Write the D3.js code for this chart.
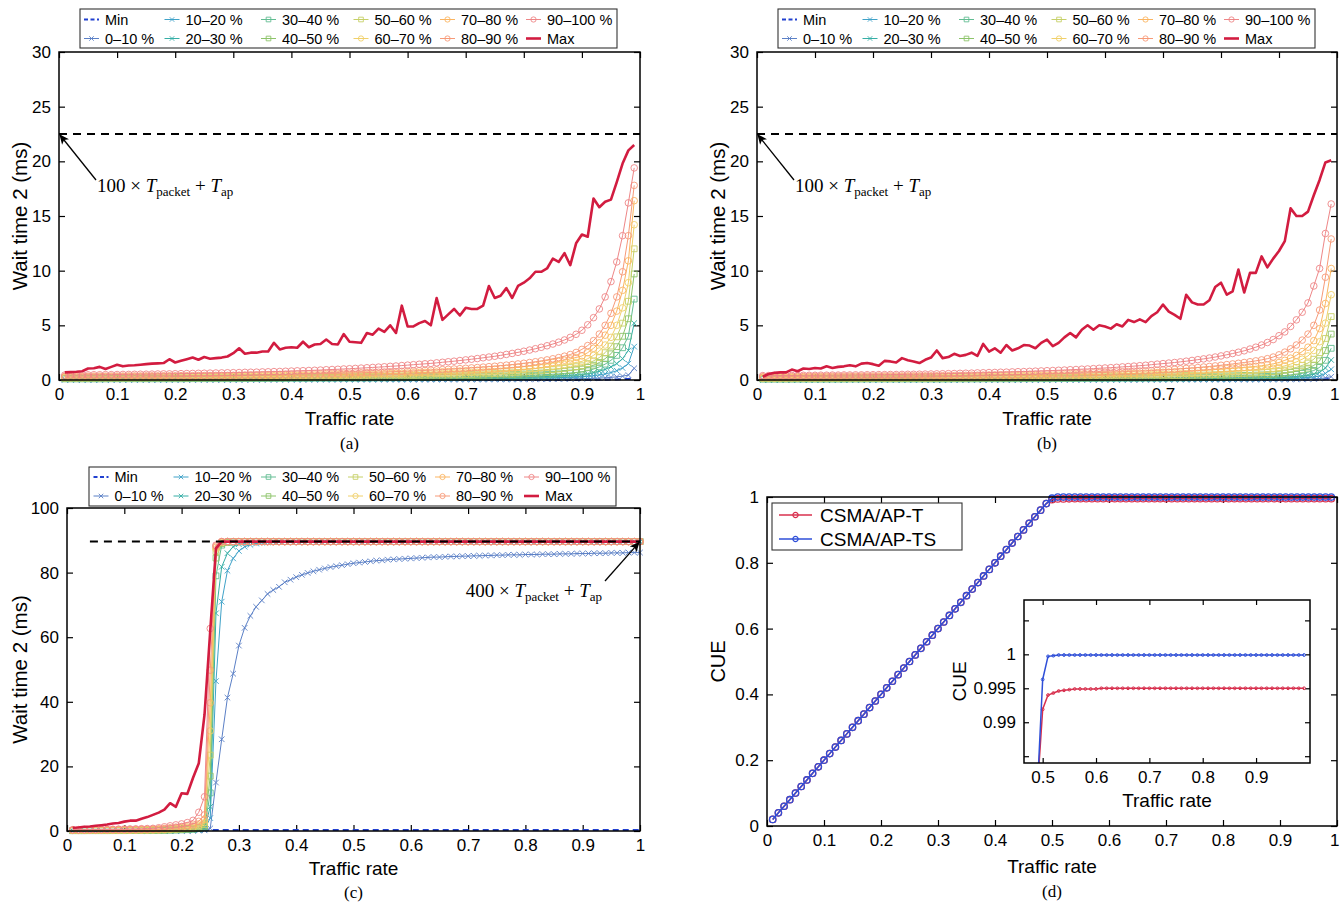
<!DOCTYPE html>
<html>
<head>
<meta charset="utf-8">
<script src="https://cdn.jsdelivr.net/npm/d3@7"></script>
<style>
  body { margin: 0; background: #fff; }
</style>
</head>
<body>
<svg id="fig" width="1340" height="902"></svg>
<script>
// ---------------- data ----------------
const rate100 = [
  0.01,0.02,0.03,0.04,0.05,0.06,0.07,0.08,0.09,0.10,
  0.11,0.12,0.13,0.14,0.15,0.16,0.17,0.18,0.19,0.20,
  0.21,0.22,0.23,0.24,0.25,0.26,0.27,0.28,0.29,0.30,
  0.31,0.32,0.33,0.34,0.35,0.36,0.37,0.38,0.39,0.40,
  0.41,0.42,0.43,0.44,0.45,0.46,0.47,0.48,0.49,0.50,
  0.51,0.52,0.53,0.54,0.55,0.56,0.57,0.58,0.59,0.60,
  0.61,0.62,0.63,0.64,0.65,0.66,0.67,0.68,0.69,0.70,
  0.71,0.72,0.73,0.74,0.75,0.76,0.77,0.78,0.79,0.80,
  0.81,0.82,0.83,0.84,0.85,0.86,0.87,0.88,0.89,0.90,
  0.91,0.92,0.93,0.94,0.95,0.96,0.97,0.98,0.99,1.00];
const rate99 = rate100.slice(0, 99);

const xTicks = [0,0.1,0.2,0.3,0.4,0.5,0.6,0.7,0.8,0.9,1];
const waitTicksAB = [0,5,10,15,20,25,30];
const waitTicksC = [0,20,40,60,80,100];
const cueTicks = [0,0.2,0.4,0.6,0.8,1];
const insetXTicks = [0.5,0.6,0.7,0.8,0.9];
const insetYTicks = [0.985,0.99,0.995,1,1.005];
const insetYLabelled = [0.99,0.995,1];

const bandNames = ["0–10 %","10–20 %","20–30 %","30–40 %","40–50 %","50–60 %","60–70 %","70–80 %","80–90 %","90–100 %"];

// panel (a): wait time 2 percentile bands
const aMin = [
  0.01,0.01,0.01,0.01,0.01,0.01,0.01,0.01,0.01,0.01,
  0.01,0.01,0.01,0.01,0.01,0.01,0.01,0.01,0.01,0.01,
  0.01,0.01,0.01,0.01,0.01,0.01,0.01,0.01,0.01,0.01,
  0.01,0.01,0.01,0.01,0.01,0.01,0.01,0.01,0.01,0.01,
  0.01,0.01,0.01,0.01,0.01,0.01,0.01,0.01,0.01,0.01,
  0.01,0.01,0.01,0.01,0.01,0.01,0.01,0.01,0.01,0.01,
  0.01,0.01,0.01,0.01,0.01,0.01,0.01,0.01,0.01,0.01,
  0.01,0.01,0.01,0.01,0.01,0.01,0.01,0.01,0.01,0.01,
  0.01,0.01,0.01,0.01,0.01,0.01,0.01,0.01,0.01,0.01,
  0.02,0.02,0.03,0.03,0.04,0.05,0.07,0.10,0.18];
const aP1 = [
  0.02,0.02,0.02,0.02,0.02,0.02,0.02,0.02,0.02,0.02,
  0.02,0.02,0.02,0.02,0.02,0.02,0.02,0.02,0.02,0.02,
  0.02,0.02,0.02,0.02,0.02,0.02,0.02,0.02,0.02,0.02,
  0.02,0.02,0.02,0.02,0.02,0.03,0.03,0.03,0.03,0.03,
  0.03,0.03,0.03,0.03,0.03,0.03,0.03,0.03,0.03,0.03,
  0.03,0.03,0.03,0.03,0.03,0.03,0.03,0.03,0.03,0.03,
  0.03,0.03,0.03,0.03,0.04,0.04,0.04,0.04,0.04,0.04,
  0.04,0.04,0.04,0.05,0.05,0.05,0.05,0.05,0.06,0.06,
  0.06,0.06,0.07,0.07,0.08,0.08,0.09,0.10,0.11,0.12,
  0.13,0.15,0.17,0.20,0.24,0.29,0.35,0.45,1.07];
const aP2 = [
  0.04,0.04,0.04,0.04,0.04,0.04,0.04,0.04,0.04,0.04,
  0.04,0.04,0.04,0.04,0.04,0.04,0.04,0.04,0.04,0.04,
  0.05,0.05,0.05,0.05,0.05,0.05,0.05,0.05,0.05,0.05,
  0.05,0.05,0.05,0.05,0.06,0.06,0.06,0.06,0.06,0.06,
  0.06,0.06,0.06,0.06,0.07,0.07,0.07,0.07,0.07,0.07,
  0.07,0.07,0.07,0.07,0.08,0.08,0.08,0.08,0.08,0.08,
  0.08,0.09,0.09,0.09,0.09,0.10,0.10,0.10,0.11,0.11,
  0.11,0.12,0.12,0.12,0.13,0.13,0.14,0.14,0.15,0.16,
  0.17,0.18,0.19,0.20,0.21,0.22,0.24,0.25,0.27,0.30,
  0.34,0.40,0.47,0.56,0.68,0.85,1.10,1.50,3.05];
const aP3 = [
  0.07,0.07,0.07,0.07,0.07,0.07,0.07,0.07,0.07,0.07,
  0.07,0.07,0.07,0.07,0.07,0.08,0.08,0.08,0.08,0.08,
  0.08,0.08,0.08,0.08,0.08,0.08,0.08,0.08,0.08,0.08,
  0.08,0.08,0.09,0.09,0.09,0.09,0.09,0.09,0.09,0.10,
  0.10,0.10,0.10,0.10,0.10,0.10,0.11,0.11,0.11,0.11,
  0.11,0.11,0.12,0.12,0.12,0.12,0.13,0.13,0.13,0.14,
  0.14,0.14,0.15,0.15,0.15,0.16,0.16,0.17,0.17,0.18,
  0.18,0.19,0.19,0.20,0.21,0.21,0.22,0.23,0.24,0.26,
  0.27,0.29,0.31,0.33,0.35,0.37,0.40,0.43,0.46,0.50,
  0.57,0.67,0.80,0.97,1.20,1.50,1.95,2.70,5.20];
const aP4 = [
  0.10,0.10,0.10,0.10,0.10,0.10,0.10,0.10,0.11,0.11,
  0.11,0.11,0.11,0.11,0.11,0.11,0.11,0.11,0.11,0.11,
  0.11,0.12,0.12,0.12,0.12,0.12,0.12,0.12,0.12,0.12,
  0.12,0.13,0.13,0.13,0.13,0.14,0.14,0.14,0.14,0.15,
  0.15,0.15,0.15,0.16,0.16,0.16,0.16,0.17,0.17,0.17,
  0.17,0.18,0.18,0.18,0.19,0.19,0.20,0.20,0.20,0.21,
  0.21,0.22,0.22,0.23,0.23,0.24,0.25,0.25,0.26,0.27,
  0.28,0.29,0.30,0.31,0.32,0.33,0.34,0.36,0.38,0.40,
  0.42,0.44,0.47,0.50,0.53,0.56,0.60,0.64,0.69,0.75,
  0.85,1.00,1.20,1.45,1.80,2.25,2.95,4.00,7.40];
const aP5 = [
  0.14,0.14,0.14,0.14,0.14,0.14,0.15,0.15,0.15,0.15,
  0.15,0.15,0.15,0.15,0.15,0.16,0.16,0.16,0.16,0.16,
  0.16,0.16,0.16,0.16,0.17,0.17,0.17,0.17,0.17,0.17,
  0.18,0.18,0.18,0.19,0.19,0.19,0.20,0.20,0.20,0.21,
  0.21,0.21,0.22,0.22,0.22,0.23,0.23,0.23,0.24,0.24,
  0.25,0.25,0.26,0.26,0.27,0.27,0.28,0.28,0.29,0.30,
  0.30,0.31,0.32,0.32,0.33,0.34,0.35,0.36,0.37,0.38,
  0.39,0.40,0.42,0.43,0.45,0.46,0.48,0.50,0.52,0.55,
  0.58,0.61,0.64,0.68,0.72,0.76,0.81,0.86,0.93,1.00,
  1.15,1.35,1.60,1.95,2.40,3.05,4.00,5.60,9.70];
const aP6 = [
  0.18,0.18,0.18,0.18,0.18,0.19,0.19,0.19,0.19,0.19,
  0.19,0.19,0.20,0.20,0.20,0.20,0.20,0.20,0.21,0.21,
  0.21,0.21,0.21,0.21,0.21,0.22,0.22,0.22,0.22,0.22,
  0.23,0.23,0.23,0.24,0.24,0.25,0.25,0.25,0.26,0.26,
  0.27,0.27,0.28,0.28,0.28,0.29,0.29,0.30,0.30,0.31,
  0.32,0.32,0.33,0.34,0.34,0.35,0.36,0.37,0.38,0.39,
  0.40,0.41,0.42,0.43,0.44,0.45,0.46,0.47,0.48,0.50,
  0.51,0.53,0.55,0.57,0.59,0.61,0.63,0.66,0.69,0.72,
  0.76,0.80,0.85,0.90,0.95,1.01,1.07,1.14,1.22,1.30,
  1.50,1.75,2.05,2.50,3.10,3.95,5.20,7.20,12.0];
const aP7 = [
  0.22,0.22,0.22,0.22,0.23,0.23,0.23,0.23,0.23,0.24,
  0.24,0.24,0.24,0.24,0.25,0.25,0.25,0.25,0.25,0.26,
  0.26,0.26,0.26,0.26,0.27,0.27,0.27,0.27,0.28,0.28,
  0.29,0.29,0.30,0.30,0.31,0.31,0.32,0.32,0.33,0.34,
  0.34,0.35,0.35,0.36,0.37,0.37,0.38,0.39,0.39,0.40,
  0.41,0.42,0.43,0.44,0.45,0.46,0.47,0.48,0.49,0.50,
  0.51,0.53,0.54,0.55,0.57,0.58,0.60,0.62,0.64,0.66,
  0.68,0.70,0.72,0.75,0.77,0.80,0.83,0.86,0.90,0.95,
  1.00,1.05,1.11,1.17,1.25,1.33,1.41,1.50,1.60,1.70,
  1.95,2.25,2.65,3.20,3.90,5.00,6.60,8.90,14.2];
const aP8 = [
  0.27,0.27,0.27,0.28,0.28,0.28,0.28,0.29,0.29,0.29,
  0.29,0.30,0.30,0.30,0.30,0.31,0.31,0.31,0.31,0.32,
  0.32,0.32,0.32,0.33,0.33,0.33,0.33,0.34,0.34,0.34,
  0.35,0.36,0.36,0.37,0.38,0.39,0.39,0.40,0.41,0.42,
  0.42,0.43,0.44,0.45,0.46,0.46,0.47,0.48,0.49,0.50,
  0.51,0.52,0.54,0.55,0.56,0.58,0.59,0.61,0.62,0.64,
  0.66,0.68,0.70,0.71,0.73,0.75,0.77,0.79,0.82,0.84,
  0.87,0.90,0.93,0.96,0.99,1.03,1.07,1.11,1.16,1.22,
  1.28,1.35,1.42,1.50,1.60,1.70,1.81,1.93,2.06,2.20,
  2.50,2.90,3.40,4.10,5.00,6.30,8.20,10.9,16.4];
const aP9 = [
  0.33,0.33,0.34,0.34,0.34,0.35,0.35,0.35,0.36,0.36,
  0.36,0.37,0.37,0.37,0.38,0.38,0.38,0.39,0.39,0.39,
  0.40,0.40,0.40,0.41,0.41,0.41,0.42,0.42,0.42,0.43,
  0.44,0.45,0.46,0.47,0.48,0.49,0.50,0.51,0.52,0.53,
  0.54,0.55,0.56,0.57,0.58,0.59,0.60,0.61,0.62,0.63,
  0.65,0.66,0.68,0.70,0.71,0.73,0.75,0.77,0.79,0.81,
  0.83,0.85,0.88,0.90,0.93,0.95,0.98,1.01,1.04,1.07,
  1.11,1.14,1.18,1.22,1.26,1.31,1.36,1.41,1.47,1.53,
  1.60,1.67,1.75,1.84,1.94,2.05,2.18,2.33,2.52,2.80,
  3.15,3.60,4.20,5.00,6.10,7.60,9.90,13.2,17.8];
const aP10 = [
  0.45,0.46,0.46,0.47,0.47,0.48,0.48,0.49,0.49,0.50,
  0.51,0.51,0.52,0.53,0.53,0.54,0.55,0.56,0.56,0.57,
  0.58,0.59,0.60,0.61,0.62,0.63,0.64,0.65,0.66,0.67,
  0.68,0.70,0.71,0.72,0.74,0.75,0.77,0.78,0.80,0.82,
  0.84,0.85,0.87,0.89,0.91,0.94,0.96,0.98,1.01,1.03,
  1.06,1.09,1.12,1.15,1.18,1.21,1.25,1.28,1.32,1.36,
  1.40,1.44,1.48,1.52,1.57,1.62,1.67,1.72,1.78,1.84,
  1.90,1.96,2.03,2.10,2.17,2.25,2.34,2.43,2.53,2.63,
  2.74,2.86,2.99,3.13,3.29,3.46,3.66,3.90,4.18,4.55,
  5.05,5.70,6.50,7.60,9.00,10.8,13.2,16.2,19.4];
const aMax = [
  0.70,0.72,0.75,0.80,1.05,1.08,1.20,1.00,1.20,1.40,
  1.25,1.32,1.35,1.40,1.45,1.50,1.52,1.55,1.90,1.60,
  1.75,1.90,2.05,1.85,2.10,1.95,2.00,2.05,2.15,2.45,
  2.90,2.40,2.50,2.50,2.60,2.60,3.40,2.80,2.95,3.00,
  2.95,3.50,3.00,3.25,3.30,3.70,3.30,3.25,4.20,3.50,
  3.45,3.40,4.30,4.15,4.70,4.40,5.00,4.30,6.80,4.90,
  4.90,5.20,5.40,5.00,7.50,5.50,6.00,6.50,5.90,6.60,
  6.50,6.50,6.80,8.60,7.50,7.70,8.40,7.50,8.60,8.90,
  9.30,9.90,9.90,10.2,11.1,10.8,11.6,10.5,12.5,13.3,
  13.1,16.6,15.8,16.3,16.5,18.1,19.8,21.0,21.5];

// panel (b)
const bMin = [
  0.01,0.01,0.01,0.01,0.01,0.01,0.01,0.01,0.01,0.01,
  0.01,0.01,0.01,0.01,0.01,0.01,0.01,0.01,0.01,0.01,
  0.01,0.01,0.01,0.01,0.01,0.01,0.01,0.01,0.01,0.01,
  0.01,0.01,0.01,0.01,0.01,0.01,0.01,0.01,0.01,0.01,
  0.01,0.01,0.01,0.01,0.01,0.01,0.01,0.01,0.01,0.01,
  0.01,0.01,0.01,0.01,0.01,0.01,0.01,0.01,0.01,0.01,
  0.01,0.01,0.01,0.01,0.01,0.01,0.01,0.01,0.01,0.01,
  0.01,0.01,0.01,0.01,0.01,0.01,0.01,0.01,0.01,0.01,
  0.01,0.01,0.01,0.01,0.01,0.01,0.01,0.01,0.01,0.01,
  0.01,0.01,0.02,0.02,0.02,0.03,0.04,0.06,0.10];
const bP1 = [
  0.01,0.01,0.01,0.01,0.01,0.01,0.01,0.01,0.01,0.01,
  0.01,0.01,0.01,0.01,0.01,0.01,0.01,0.01,0.01,0.01,
  0.01,0.01,0.01,0.01,0.01,0.01,0.01,0.01,0.01,0.01,
  0.01,0.01,0.01,0.01,0.01,0.01,0.01,0.01,0.01,0.01,
  0.01,0.01,0.01,0.01,0.01,0.01,0.01,0.01,0.01,0.01,
  0.02,0.02,0.02,0.02,0.02,0.02,0.02,0.02,0.02,0.02,
  0.02,0.02,0.02,0.02,0.02,0.02,0.02,0.02,0.02,0.02,
  0.03,0.03,0.03,0.03,0.03,0.03,0.03,0.03,0.03,0.03,
  0.03,0.03,0.03,0.03,0.035,0.035,0.035,0.04,0.04,0.04,
  0.045,0.05,0.055,0.065,0.075,0.09,0.12,0.20,0.30];
const bP2 = [
  0.03,0.03,0.03,0.03,0.03,0.03,0.03,0.03,0.03,0.03,
  0.03,0.03,0.03,0.03,0.03,0.03,0.03,0.03,0.03,0.03,
  0.03,0.03,0.03,0.03,0.03,0.03,0.03,0.03,0.03,0.03,
  0.03,0.03,0.03,0.03,0.03,0.04,0.04,0.04,0.04,0.04,
  0.04,0.04,0.04,0.04,0.04,0.04,0.04,0.04,0.04,0.04,
  0.04,0.04,0.04,0.04,0.04,0.05,0.05,0.05,0.05,0.05,
  0.05,0.05,0.05,0.05,0.05,0.06,0.06,0.06,0.06,0.06,
  0.06,0.06,0.06,0.07,0.07,0.07,0.07,0.07,0.08,0.08,
  0.08,0.08,0.09,0.09,0.09,0.10,0.10,0.11,0.11,0.12,
  0.13,0.15,0.17,0.20,0.23,0.28,0.37,0.60,0.98];
const bP3 = [
  0.05,0.05,0.05,0.05,0.05,0.05,0.05,0.05,0.05,0.05,
  0.05,0.05,0.05,0.05,0.05,0.06,0.06,0.06,0.06,0.06,
  0.06,0.06,0.06,0.06,0.06,0.06,0.06,0.06,0.06,0.06,
  0.06,0.06,0.06,0.06,0.07,0.07,0.07,0.07,0.07,0.07,
  0.07,0.07,0.07,0.07,0.08,0.08,0.08,0.08,0.08,0.08,
  0.08,0.08,0.08,0.08,0.08,0.09,0.09,0.09,0.09,0.09,
  0.09,0.09,0.10,0.10,0.10,0.10,0.10,0.11,0.11,0.11,
  0.11,0.12,0.12,0.12,0.13,0.13,0.13,0.14,0.14,0.15,
  0.15,0.16,0.16,0.17,0.17,0.18,0.19,0.19,0.20,0.22,
  0.25,0.28,0.32,0.37,0.43,0.53,0.70,1.10,1.83];
const bP4 = [
  0.08,0.08,0.08,0.08,0.08,0.08,0.08,0.08,0.08,0.08,
  0.08,0.08,0.08,0.08,0.08,0.09,0.09,0.09,0.09,0.09,
  0.09,0.09,0.09,0.09,0.09,0.09,0.09,0.09,0.09,0.09,
  0.09,0.09,0.09,0.10,0.10,0.10,0.10,0.10,0.11,0.11,
  0.11,0.11,0.11,0.11,0.11,0.12,0.12,0.12,0.12,0.12,
  0.12,0.13,0.13,0.13,0.13,0.14,0.14,0.14,0.15,0.15,
  0.15,0.15,0.16,0.16,0.16,0.16,0.17,0.17,0.17,0.18,
  0.18,0.19,0.19,0.20,0.21,0.21,0.22,0.23,0.24,0.25,
  0.26,0.27,0.28,0.29,0.30,0.31,0.32,0.33,0.35,0.37,
  0.41,0.46,0.53,0.61,0.71,0.87,1.15,1.80,2.90];
const bP5 = [
  0.11,0.11,0.11,0.11,0.11,0.11,0.12,0.12,0.12,0.12,
  0.12,0.12,0.12,0.12,0.12,0.12,0.12,0.12,0.13,0.13,
  0.13,0.13,0.13,0.13,0.13,0.13,0.13,0.13,0.13,0.13,
  0.13,0.14,0.14,0.14,0.14,0.15,0.15,0.15,0.15,0.16,
  0.16,0.16,0.16,0.16,0.17,0.17,0.17,0.17,0.18,0.18,
  0.18,0.19,0.19,0.19,0.20,0.20,0.20,0.21,0.21,0.22,
  0.22,0.22,0.23,0.23,0.24,0.24,0.25,0.25,0.26,0.27,
  0.27,0.28,0.29,0.30,0.31,0.32,0.33,0.34,0.35,0.37,
  0.38,0.39,0.40,0.42,0.43,0.45,0.47,0.49,0.52,0.55,
  0.62,0.70,0.80,0.93,1.08,1.33,1.75,2.70,4.20];
const bP6 = [
  0.15,0.15,0.15,0.15,0.15,0.15,0.16,0.16,0.16,0.16,
  0.16,0.16,0.16,0.16,0.17,0.17,0.17,0.17,0.17,0.17,
  0.17,0.17,0.17,0.17,0.18,0.18,0.18,0.18,0.18,0.18,
  0.18,0.19,0.19,0.19,0.20,0.20,0.20,0.21,0.21,0.21,
  0.22,0.22,0.22,0.23,0.23,0.23,0.24,0.24,0.24,0.25,
  0.25,0.26,0.26,0.27,0.27,0.28,0.28,0.29,0.29,0.30,
  0.31,0.31,0.32,0.33,0.33,0.34,0.35,0.36,0.37,0.38,
  0.39,0.40,0.41,0.42,0.43,0.44,0.46,0.47,0.49,0.52,
  0.54,0.56,0.58,0.60,0.62,0.64,0.67,0.70,0.75,0.80,
  0.90,1.00,1.15,1.33,1.55,1.90,2.50,3.80,5.80];
const bP7 = [
  0.19,0.19,0.19,0.19,0.19,0.20,0.20,0.20,0.20,0.20,
  0.20,0.21,0.21,0.21,0.21,0.21,0.21,0.22,0.22,0.22,
  0.22,0.22,0.22,0.22,0.22,0.23,0.23,0.23,0.23,0.23,
  0.24,0.24,0.25,0.25,0.26,0.26,0.26,0.27,0.27,0.28,
  0.28,0.28,0.29,0.29,0.30,0.30,0.31,0.31,0.32,0.32,
  0.33,0.34,0.34,0.35,0.36,0.36,0.37,0.38,0.39,0.40,
  0.41,0.42,0.43,0.44,0.45,0.46,0.47,0.49,0.50,0.52,
  0.53,0.55,0.57,0.58,0.60,0.62,0.64,0.67,0.69,0.72,
  0.75,0.78,0.81,0.84,0.87,0.90,0.94,0.99,1.06,1.15,
  1.30,1.45,1.65,1.90,2.20,2.70,3.50,5.20,7.80];
const bP8 = [
  0.24,0.24,0.24,0.25,0.25,0.25,0.25,0.26,0.26,0.26,
  0.26,0.27,0.27,0.27,0.27,0.28,0.28,0.28,0.28,0.28,
  0.29,0.29,0.29,0.29,0.29,0.30,0.30,0.30,0.30,0.30,
  0.31,0.31,0.32,0.32,0.33,0.33,0.34,0.35,0.35,0.36,
  0.36,0.37,0.37,0.38,0.39,0.39,0.40,0.41,0.41,0.42,
  0.43,0.44,0.45,0.46,0.47,0.48,0.49,0.50,0.51,0.53,
  0.54,0.55,0.57,0.58,0.60,0.62,0.63,0.65,0.68,0.70,
  0.72,0.74,0.77,0.79,0.82,0.85,0.88,0.91,0.95,1.00,
  1.04,1.08,1.12,1.16,1.20,1.25,1.31,1.38,1.48,1.60,
  1.80,2.00,2.25,2.60,3.00,3.60,4.70,7.00,10.2];
const bP9 = [
  0.30,0.30,0.31,0.31,0.31,0.32,0.32,0.32,0.33,0.33,
  0.33,0.34,0.34,0.34,0.35,0.35,0.35,0.36,0.36,0.36,
  0.36,0.37,0.37,0.37,0.37,0.38,0.38,0.38,0.38,0.38,
  0.39,0.40,0.40,0.41,0.42,0.43,0.44,0.44,0.45,0.46,
  0.47,0.48,0.49,0.49,0.50,0.51,0.52,0.53,0.54,0.55,
  0.56,0.57,0.59,0.60,0.61,0.63,0.64,0.66,0.68,0.70,
  0.72,0.74,0.76,0.78,0.80,0.82,0.84,0.86,0.89,0.92,
  0.95,0.98,1.02,1.06,1.10,1.14,1.19,1.24,1.29,1.35,
  1.41,1.47,1.53,1.60,1.67,1.75,1.84,1.95,2.10,2.30,
  2.55,2.85,3.20,3.65,4.20,5.00,6.40,9.40,12.9];
const bP10 = [
  0.40,0.40,0.41,0.41,0.42,0.42,0.42,0.43,0.43,0.43,
  0.44,0.44,0.45,0.45,0.46,0.46,0.47,0.47,0.48,0.48,
  0.49,0.49,0.50,0.50,0.51,0.52,0.52,0.53,0.54,0.55,
  0.56,0.57,0.58,0.59,0.61,0.62,0.63,0.65,0.66,0.68,
  0.69,0.71,0.72,0.74,0.76,0.77,0.79,0.81,0.83,0.85,
  0.87,0.89,0.91,0.94,0.96,0.99,1.01,1.04,1.07,1.10,
  1.13,1.16,1.20,1.23,1.27,1.31,1.35,1.40,1.45,1.50,
  1.55,1.60,1.66,1.72,1.79,1.86,1.93,2.01,2.10,2.20,
  2.31,2.42,2.54,2.67,2.83,3.00,3.20,3.43,3.70,4.05,
  4.40,4.90,5.50,6.20,7.05,8.60,10.2,13.4,16.1];
const bMax = [
  0.30,0.55,0.65,0.70,0.70,0.95,0.80,1.05,1.00,1.10,
  1.05,1.25,1.10,1.20,1.25,1.35,1.25,1.50,1.55,1.45,
  1.30,1.75,1.70,1.60,2.00,1.80,1.70,1.55,1.85,2.05,
  2.70,2.00,2.10,2.40,2.20,2.30,2.50,2.20,3.30,2.60,
  2.90,2.50,3.20,2.70,2.90,3.20,3.15,2.90,3.40,3.70,
  3.10,3.40,3.90,4.30,3.90,4.60,5.00,4.60,5.00,4.90,
  4.70,5.10,4.90,5.50,5.30,5.55,5.30,5.85,6.20,6.90,
  6.25,5.95,5.60,7.80,7.10,6.90,6.90,7.30,8.50,8.90,
  7.80,8.10,10.1,8.00,9.80,9.80,11.3,10.3,11.1,11.8,
  12.7,15.7,15.0,15.0,15.4,16.9,18.3,19.9,20.1];

// panel (c)
const cMin = [
  0.3,0.3,0.3,0.3,0.3,0.3,0.3,0.3,0.3,0.3,
  0.3,0.3,0.3,0.3,0.3,0.3,0.3,0.3,0.3,0.3,
  0.3,0.3,0.3,0.3,0.3,0.3,0.3,0.3,0.3,0.3,
  0.3,0.3,0.3,0.3,0.3,0.3,0.3,0.3,0.3,0.3,
  0.3,0.3,0.3,0.3,0.3,0.3,0.3,0.3,0.3,0.3,
  0.3,0.3,0.3,0.3,0.3,0.3,0.3,0.3,0.3,0.3,
  0.3,0.3,0.3,0.3,0.3,0.3,0.3,0.3,0.3,0.3,
  0.3,0.3,0.3,0.3,0.3,0.3,0.3,0.3,0.3,0.3,
  0.3,0.3,0.3,0.3,0.3,0.3,0.3,0.3,0.3,0.3,
  0.3,0.3,0.3,0.3,0.3,0.3,0.3,0.3,0.3,0.3];
const cP1 = [
  0.02,0.02,0.02,0.02,0.02,0.02,0.02,0.02,0.02,0.02,
  0.02,0.02,0.03,0.03,0.03,0.03,0.04,0.05,0.06,0.07,
  0.08,0.10,0.14,0.20,0.80,15.0,28.4,41.3,48.7,57.4,
  62.9,66.6,69.4,71.4,73.4,74.6,75.6,77.0,77.8,78.6,
  79.3,79.9,80.4,80.9,81.3,81.7,82.0,82.3,82.6,82.9,
  83.1,83.3,83.5,83.7,83.8,84.0,84.1,84.2,84.3,84.4,
  84.5,84.6,84.7,84.8,84.8,84.9,85.0,85.0,85.1,85.1,
  85.2,85.2,85.3,85.3,85.4,85.4,85.5,85.5,85.5,85.6,
  85.6,85.6,85.7,85.7,85.7,85.8,85.8,85.8,85.9,85.9,
  85.9,86.0,86.0,86.0,86.1,86.1,86.1,86.2,86.2,86.2];
const cP2 = [
  0.04,0.04,0.04,0.04,0.04,0.04,0.05,0.05,0.05,0.05,
  0.05,0.05,0.06,0.06,0.06,0.07,0.08,0.10,0.12,0.14,
  0.17,0.21,0.30,0.50,4.00,46.4,71.0,80.6,84.4,86.7,
  88.0,88.6,89.0,89.3,89.4,89.5,89.6,89.6,89.6,89.6,
  89.6,89.6,89.6,89.6,89.6,89.6,89.6,89.6,89.6,89.6,
  89.6,89.6,89.6,89.6,89.6,89.6,89.6,89.6,89.6,89.6,
  89.6,89.6,89.6,89.6,89.6,89.6,89.6,89.6,89.6,89.6,
  89.6,89.6,89.6,89.6,89.6,89.6,89.6,89.6,89.6,89.6,
  89.6,89.6,89.6,89.6,89.6,89.6,89.6,89.6,89.6,89.6,
  89.6,89.6,89.6,89.6,89.6,89.6,89.6,89.6,89.6,89.6];
const cP3 = [
  0.06,0.06,0.06,0.07,0.07,0.07,0.07,0.07,0.08,0.08,
  0.08,0.08,0.09,0.09,0.10,0.11,0.13,0.16,0.19,0.23,
  0.27,0.34,0.50,0.80,7.50,67.4,81.8,86.0,88.0,88.8,
  89.2,89.4,89.5,89.6,89.6,89.6,89.6,89.6,89.6,89.6,
  89.6,89.6,89.6,89.6,89.6,89.6,89.6,89.6,89.6,89.6,
  89.6,89.6,89.6,89.6,89.6,89.6,89.6,89.6,89.6,89.6,
  89.6,89.6,89.6,89.6,89.6,89.6,89.6,89.6,89.6,89.6,
  89.6,89.6,89.6,89.6,89.6,89.6,89.6,89.6,89.6,89.6,
  89.6,89.6,89.6,89.6,89.6,89.6,89.6,89.6,89.6,89.6,
  89.6,89.6,89.6,89.6,89.6,89.6,89.6,89.6,89.6,89.6];
const cP4 = [
  0.09,0.09,0.09,0.10,0.10,0.10,0.10,0.11,0.11,0.11,
  0.12,0.12,0.13,0.14,0.15,0.17,0.20,0.24,0.28,0.34,
  0.40,0.50,0.72,1.10,11.8,79.0,88.5,89.3,89.5,89.6,
  89.6,89.6,89.6,89.6,89.6,89.6,89.6,89.6,89.6,89.6,
  89.6,89.6,89.6,89.6,89.6,89.6,89.6,89.6,89.6,89.6,
  89.6,89.6,89.6,89.6,89.6,89.6,89.6,89.6,89.6,89.6,
  89.6,89.6,89.6,89.6,89.6,89.6,89.6,89.6,89.6,89.6,
  89.6,89.6,89.6,89.6,89.6,89.6,89.6,89.6,89.6,89.6,
  89.6,89.6,89.6,89.6,89.6,89.6,89.6,89.6,89.6,89.6,
  89.6,89.6,89.6,89.6,89.6,89.6,89.6,89.6,89.6,89.6];
const cP5 = [
  0.12,0.12,0.12,0.13,0.13,0.13,0.14,0.14,0.15,0.15,
  0.16,0.17,0.18,0.19,0.21,0.23,0.27,0.33,0.39,0.46,
  0.55,0.68,1.00,1.50,17.0,84.5,89.0,89.4,89.6,89.6,
  89.6,89.6,89.6,89.6,89.6,89.6,89.6,89.6,89.6,89.6,
  89.6,89.6,89.6,89.6,89.6,89.6,89.6,89.6,89.6,89.6,
  89.6,89.6,89.6,89.6,89.6,89.6,89.6,89.6,89.6,89.6,
  89.6,89.6,89.6,89.6,89.6,89.6,89.6,89.6,89.6,89.6,
  89.6,89.6,89.6,89.6,89.6,89.6,89.6,89.6,89.6,89.6,
  89.6,89.6,89.6,89.6,89.6,89.6,89.6,89.6,89.6,89.6,
  89.6,89.6,89.6,89.6,89.6,89.6,89.6,89.6,89.6,89.6];
const cP6 = [
  0.15,0.15,0.16,0.16,0.17,0.17,0.18,0.19,0.19,0.20,
  0.21,0.22,0.23,0.25,0.27,0.30,0.36,0.44,0.52,0.62,
  0.74,0.90,1.30,2.00,23.5,86.5,89.2,89.5,89.6,89.6,
  89.6,89.6,89.6,89.6,89.6,89.6,89.6,89.6,89.6,89.6,
  89.6,89.6,89.6,89.6,89.6,89.6,89.6,89.6,89.6,89.6,
  89.6,89.6,89.6,89.6,89.6,89.6,89.6,89.6,89.6,89.6,
  89.6,89.6,89.6,89.6,89.6,89.6,89.6,89.6,89.6,89.6,
  89.6,89.6,89.6,89.6,89.6,89.6,89.6,89.6,89.6,89.6,
  89.6,89.6,89.6,89.6,89.6,89.6,89.6,89.6,89.6,89.6,
  89.6,89.6,89.6,89.6,89.6,89.6,89.6,89.6,89.6,89.6];
const cP7 = [
  0.19,0.20,0.21,0.21,0.22,0.23,0.24,0.25,0.26,0.27,
  0.28,0.30,0.31,0.33,0.36,0.40,0.48,0.58,0.70,0.82,
  0.97,1.20,1.70,2.60,31.0,87.3,89.4,89.6,89.6,89.6,
  89.6,89.6,89.6,89.6,89.6,89.6,89.6,89.6,89.6,89.6,
  89.6,89.6,89.6,89.6,89.6,89.6,89.6,89.6,89.6,89.6,
  89.6,89.6,89.6,89.6,89.6,89.6,89.6,89.6,89.6,89.6,
  89.6,89.6,89.6,89.6,89.6,89.6,89.6,89.6,89.6,89.6,
  89.6,89.6,89.6,89.6,89.6,89.6,89.6,89.6,89.6,89.6,
  89.6,89.6,89.6,89.6,89.6,89.6,89.6,89.6,89.6,89.6,
  89.6,89.6,89.6,89.6,89.6,89.6,89.6,89.6,89.6,89.6];
const cP8 = [
  0.24,0.25,0.26,0.27,0.28,0.29,0.30,0.32,0.33,0.35,
  0.36,0.38,0.40,0.43,0.46,0.52,0.62,0.76,0.90,1.05,
  1.25,1.55,2.20,3.50,39.7,87.8,89.5,89.6,89.6,89.6,
  89.6,89.6,89.6,89.6,89.6,89.6,89.6,89.6,89.6,89.6,
  89.6,89.6,89.6,89.6,89.6,89.6,89.6,89.6,89.6,89.6,
  89.6,89.6,89.6,89.6,89.6,89.6,89.6,89.6,89.6,89.6,
  89.6,89.6,89.6,89.6,89.6,89.6,89.6,89.6,89.6,89.6,
  89.6,89.6,89.6,89.6,89.6,89.6,89.6,89.6,89.6,89.6,
  89.6,89.6,89.6,89.6,89.6,89.6,89.6,89.6,89.6,89.6,
  89.6,89.6,89.6,89.6,89.6,89.6,89.6,89.6,89.6,89.6];
const cP9 = [
  0.30,0.31,0.33,0.34,0.35,0.37,0.38,0.40,0.42,0.44,
  0.46,0.48,0.51,0.54,0.58,0.65,0.80,1.00,1.20,1.40,
  1.70,2.10,3.00,5.00,49.8,88.2,89.6,89.6,89.6,89.6,
  89.6,89.6,89.6,89.6,89.6,89.6,89.6,89.6,89.6,89.6,
  89.6,89.6,89.6,89.6,89.6,89.6,89.6,89.6,89.6,89.6,
  89.6,89.6,89.6,89.6,89.6,89.6,89.6,89.6,89.6,89.6,
  89.6,89.6,89.6,89.6,89.6,89.6,89.6,89.6,89.6,89.6,
  89.6,89.6,89.6,89.6,89.6,89.6,89.6,89.6,89.6,89.6,
  89.6,89.6,89.6,89.6,89.6,89.6,89.6,89.6,89.6,89.6,
  89.6,89.6,89.6,89.6,89.6,89.6,89.6,89.6,89.6,89.6];
const cP10 = [
  0.40,0.42,0.44,0.46,0.48,0.50,0.52,0.55,0.58,0.61,
  0.64,0.67,0.71,0.76,0.82,1.00,1.30,1.60,1.90,2.20,
  2.60,3.30,5.80,10.6,62.7,88.5,89.6,89.6,89.6,89.6,
  89.6,89.6,89.6,89.6,89.6,89.6,89.6,89.6,89.6,89.6,
  89.6,89.6,89.6,89.6,89.6,89.6,89.6,89.6,89.6,89.6,
  89.6,89.6,89.6,89.6,89.6,89.6,89.6,89.6,89.6,89.6,
  89.6,89.6,89.6,89.6,89.6,89.6,89.6,89.6,89.6,89.6,
  89.6,89.6,89.6,89.6,89.6,89.6,89.6,89.6,89.6,89.6,
  89.6,89.6,89.6,89.6,89.6,89.6,89.6,89.6,89.6,89.6,
  89.6,89.6,89.6,89.6,89.6,89.6,89.6,89.6,89.6,89.6];
const cMax = [
  1.0,1.1,1.3,1.4,1.6,1.8,2.0,2.3,2.5,2.9,
  3.2,3.2,3.8,4.3,5.0,5.7,6.6,8.6,7.5,11.7,
  11.5,16.5,21.0,36.0,62.0,87.5,89.6,89.6,89.6,89.6,
  89.6,89.6,89.6,89.6,89.6,89.6,89.6,89.6,89.6,89.6,
  89.6,89.6,89.6,89.6,89.6,89.6,89.6,89.6,89.6,89.6,
  89.6,89.6,89.6,89.6,89.6,89.6,89.6,89.6,89.6,89.6,
  89.6,89.6,89.6,89.6,89.6,89.6,89.6,89.6,89.6,89.6,
  89.6,89.6,89.6,89.6,89.6,89.6,89.6,89.6,89.6,89.6,
  89.6,89.6,89.6,89.6,89.6,89.6,89.6,89.6,89.6,89.6,
  89.6,89.6,89.6,89.6,89.6,89.6,89.6,89.6,89.6,89.6];

// bound lines: 100 x T_packet + T_ap and 400 x T_packet + T_ap
const boundA = 22.5;
const boundC = 89.6;
const boundCStart = 0.04;

// panel (d): channel utilisation efficiency
const cueT = [
  0.02,0.04,0.06,0.08,0.10,0.12,0.14,0.16,0.18,0.20,
  0.22,0.24,0.26,0.28,0.30,0.32,0.34,0.36,0.38,0.40,
  0.42,0.44,0.46,0.48,0.50,0.52,0.54,0.56,0.58,0.60,
  0.62,0.64,0.66,0.68,0.70,0.72,0.74,0.76,0.78,0.80,
  0.82,0.84,0.86,0.88,0.90,0.92,0.94,0.96,0.98,0.9919,
  0.9940,0.9943,0.9946,0.9947,0.9948,0.9949,0.9949,0.9949,0.9949,0.9949,
  0.9950,0.9950,0.9950,0.9950,0.9950,0.9950,0.9950,0.9950,0.9950,0.9950,
  0.9950,0.9950,0.9950,0.9950,0.9950,0.9950,0.9950,0.9950,0.9950,0.9950,
  0.9950,0.9950,0.9950,0.9950,0.9950,0.9950,0.9950,0.9950,0.9950,0.9950,
  0.9950,0.9950,0.9950,0.9950,0.9950,0.9950,0.9950,0.9950,0.9950];
const cueTS = [
  0.02,0.04,0.06,0.08,0.10,0.12,0.14,0.16,0.18,0.20,
  0.22,0.24,0.26,0.28,0.30,0.32,0.34,0.36,0.38,0.40,
  0.42,0.44,0.46,0.48,0.50,0.52,0.54,0.56,0.58,0.60,
  0.62,0.64,0.66,0.68,0.70,0.72,0.74,0.76,0.78,0.80,
  0.82,0.84,0.86,0.88,0.90,0.92,0.94,0.96,0.98,0.9963,
  0.9997,0.9998,0.9999,0.9999,0.9999,0.9999,0.9999,0.9999,0.9999,0.9999,
  0.9999,0.9999,0.9999,0.9999,0.9999,0.9999,0.9999,0.9999,0.9999,0.9999,
  0.9999,0.9999,0.9999,0.9999,0.9999,0.9999,0.9999,0.9999,0.9999,0.9999,
  0.9999,0.9999,0.9999,0.9999,0.9999,0.9999,0.9999,0.9999,0.9999,0.9999,
  0.9999,0.9999,0.9999,0.9999,0.9999,0.9999,0.9999,0.9999,0.9999];

// ---------------- styles ----------------
const bandStyles = [
  {color:"#5b80c6", marker:"x"},
  {color:"#3fa2c8", marker:"x"},
  {color:"#35aea6", marker:"x"},
  {color:"#62bd92", marker:"square"},
  {color:"#8dc46a", marker:"square"},
  {color:"#c6d068", marker:"square"},
  {color:"#f0d06a", marker:"circle"},
  {color:"#fbb562", marker:"circle"},
  {color:"#f79a78", marker:"circle"},
  {color:"#ee8687", marker:"circle"}
];
const minStyle = {color:"#2140d0", marker:null, dash:"6,4", width:2};
const maxStyle = {color:"#d21c40", marker:null, width:2.6};
const redT = "#d8304e", blueTS = "#2f4fd8";

const SANS = "'Liberation Sans', Arial, sans-serif";
const SERIF = "'Liberation Serif', 'Times New Roman', serif";

const svg = d3.select("#fig");
const defs = svg.append("defs");
defs.append("marker").attr("id","arrowHead").attr("viewBox","0 0 10 10")
  .attr("refX",9).attr("refY",5).attr("markerWidth",10).attr("markerHeight",10)
  .attr("markerUnits","userSpaceOnUse").attr("orient","auto")
  .append("path").attr("d","M0,0.5 L10,5 L0,9.5 L2.5,5 Z").attr("fill","#000");

const fmt = d3.format("~g");

function markerPath(type, s) {
  if (type === "circle") return `M${s},0A${s},${s} 0 1,1 ${-s},0A${s},${s} 0 1,1 ${s},0Z`;
  if (type === "square") return `M${-s},${-s}H${s}V${s}H${-s}Z`;
  if (type === "x") return `M${-s},${-s}L${s},${s}M${-s},${s}L${s},${-s}`;
  return "";
}
const markerSize = {circle:3.3, square:2.9, x:2.8};

// frame with inward ticks on all four sides
function makeAxes(g, o) {
  const x = d3.scaleLinear().domain(o.xDomain).range([o.left, o.right]);
  const y = d3.scaleLinear().domain(o.yDomain).range([o.bottom, o.top]);
  g.append("rect").attr("x", o.left).attr("y", o.top)
    .attr("width", o.right - o.left).attr("height", o.bottom - o.top).attr("fill", "#fff");
  const tl = o.tickLen || 6;
  const fs = o.tickFont || 17;
  const yFmt = o.yLabelled
    ? (d => o.yLabelled.some(v => Math.abs(v - d) < 1e-9) ? fmt(d) : "")
    : fmt;
  const ag = g.append("g");
  const place = (axis, tx, ty, labels) => {
    const a = ag.append("g").attr("transform", `translate(${tx},${ty})`).call(axis);
    a.select(".domain").remove();
    a.selectAll("line").attr("stroke", "#000").attr("stroke-width", 1.2);
    a.selectAll("text").attr("font-size", fs).style("font-family", SANS).attr("fill", "#000");
    if (!labels) a.selectAll("text").remove();
    return a;
  };
  const bottomAxis = place(d3.axisBottom(x).tickValues(o.xTicks).tickFormat(fmt).tickSizeInner(-tl).tickSizeOuter(0).tickPadding(8), 0, o.bottom, true);
  // keep the last label inside the page when the frame reaches the right edge
  if (o.right > 1330) {
    bottomAxis.selectAll(".tick text").filter(d => d === o.xTicks[o.xTicks.length - 1])
      .attr("text-anchor", "end").attr("x", 2);
  }
  place(d3.axisTop(x).tickValues(o.xTicks).tickSizeInner(-tl).tickSizeOuter(0), 0, o.top, false);
  place(d3.axisLeft(y).tickValues(o.yTicks).tickFormat(yFmt).tickSizeInner(-tl).tickSizeOuter(0).tickPadding(8), o.left, 0, true);
  place(d3.axisRight(y).tickValues(o.yTicks).tickSizeInner(-tl).tickSizeOuter(0), o.right, 0, false);
  return {x, y};
}

function drawFrame(g, o) {
  g.append("rect").attr("x", o.left).attr("y", o.top)
    .attr("width", o.right - o.left).attr("height", o.bottom - o.top)
    .attr("fill", "none").attr("stroke", "#000").attr("stroke-width", 1.5);
}

function drawSeries(g, sc, xs, ys, st, opts = {}) {
  const line = d3.line().x((d, i) => sc.x(xs[i])).y(d => sc.y(d));
  const sg = g.append("g");
  if (opts.clip) sg.attr("clip-path", `url(#${opts.clip})`);
  sg.append("path").datum(ys).attr("d", line)
    .attr("fill", "none").attr("stroke", st.color)
    .attr("stroke-width", st.width || 1)
    .attr("stroke-dasharray", st.dash || null)
    .attr("stroke-linejoin", "round");
  if (st.marker) {
    const s = opts.size || markerSize[st.marker];
    sg.selectAll("path.m").data(ys).join("path").attr("class", "m")
      .attr("transform", (d, i) => `translate(${sc.x(xs[i])},${sc.y(d)})`)
      .attr("d", markerPath(st.marker, s))
      .attr("fill", opts.fill || "none").attr("stroke", st.color)
      .attr("stroke-width", opts.mw || 0.9);
  }
}

function legendSymbol(g, x0, yc, len, st, opts = {}) {
  g.append("line").attr("x1", x0).attr("x2", x0 + len).attr("y1", yc).attr("y2", yc)
    .attr("stroke", st.color).attr("stroke-width", st.width || 1)
    .attr("stroke-dasharray", st.dash ? "4,2.5" : null);
  if (st.marker) {
    g.append("path").attr("transform", `translate(${x0 + len / 2},${yc})`)
      .attr("d", markerPath(st.marker, opts.size || markerSize[st.marker] * 0.8))
      .attr("fill", "none").attr("stroke", st.color).attr("stroke-width", opts.mw || 0.9);
  }
}

function sansText(g, x, y, txt, size) {
  return g.append("text").attr("x", x).attr("y", y).attr("font-size", size)
    .style("font-family", SANS).text(txt);
}

// two-row legend for the percentile panels
function bandLegend(g, box, textXs, rowYs) {
  g.append("rect").attr("x", box[0]).attr("y", box[1])
    .attr("width", box[2] - box[0]).attr("height", box[3] - box[1])
    .attr("fill", "#fff").attr("stroke", "#333").attr("stroke-width", 1.1);
  const entries = [{label:"Min", st:minStyle}]
    .concat(bandNames.map((n, i) => ({label:n, st:bandStyles[i]})))
    .concat([{label:"Max", st:maxStyle}]);
  entries.forEach((e, i) => {
    const col = Math.floor(i / 2), row = i % 2;
    const tx = textXs[col], yc = rowYs[row];
    legendSymbol(g, tx - 21, yc, 15, e.st);
    sansText(g, tx, yc, e.label, 14.5).attr("dy", "0.36em");
  });
}

function boundLabel(g, x, yb, lead, anchor) {
  const t = g.append("text").attr("x", x).attr("y", yb)
    .style("font-family", SERIF).attr("font-size", 19).attr("text-anchor", anchor);
  t.append("tspan").text(lead + " × ");
  t.append("tspan").attr("font-style", "italic").text("T");
  t.append("tspan").attr("font-size", 13).attr("dy", 4).text("packet");
  t.append("tspan").attr("dy", -4).text(" + ");
  t.append("tspan").attr("font-style", "italic").text("T");
  t.append("tspan").attr("font-size", 13).attr("dy", 4).text("ap");
}

function axisTitles(g, o, yTitle, yTitleSize, cap, xTitleY, capY, yTitleX) {
  const cx = (o.left + o.right) / 2;
  sansText(g, cx, xTitleY, "Traffic rate", 19).attr("text-anchor", "middle");
  g.append("text").attr("transform", `translate(${yTitleX},${(o.top + o.bottom) / 2}) rotate(-90)`)
    .attr("text-anchor", "middle").attr("dy", "0.35em")
    .attr("font-size", yTitleSize).style("font-family", SANS).text(yTitle);
  if (cap) g.append("text").attr("x", cx).attr("y", capY).attr("text-anchor", "middle")
    .attr("font-size", 17).style("font-family", SERIF).text(cap);
}

// ---------- percentile panels (a), (b), (c) ----------
function waitPanel(o, series) {
  const g = svg.append("g");
  const sc = makeAxes(g, o);
  const plot = g.append("g");
  drawSeries(plot, sc, o.xs, series.min, minStyle);
  series.bands.forEach((ys, i) => drawSeries(plot, sc, o.xs, ys, bandStyles[i]));
  drawSeries(plot, sc, o.xs, series.max, maxStyle);
  // bound line on top of the curves
  plot.append("line").attr("x1", sc.x(o.boundStart)).attr("x2", sc.x(1))
    .attr("y1", sc.y(o.bound)).attr("y2", sc.y(o.bound))
    .attr("stroke", "#000").attr("stroke-width", 2).attr("stroke-dasharray", "8,6");
  drawFrame(g, o);
  return {g, sc};
}

// (a)
const oA = {left:59, right:640, top:52, bottom:380, xDomain:[0,1], yDomain:[0,30],
  xTicks:xTicks, yTicks:waitTicksAB, xs:rate99, bound:boundA, boundStart:0};
const pA = waitPanel(oA, {min:aMin, max:aMax, bands:[aP1,aP2,aP3,aP4,aP5,aP6,aP7,aP8,aP9,aP10]});
bandLegend(pA.g, [80, 9, 617, 48], [105, 185.5, 282, 374.5, 461, 547], [19.5, 38.5]);
axisTitles(pA.g, oA, "Wait time 2 (ms)", 20.5, "(a)", 425, 449, 20);
pA.g.append("line").attr("x1", 96).attr("y1", 180).attr("x2", pA.sc.x(0) + 1).attr("y2", pA.sc.y(boundA) + 1)
  .attr("stroke", "#000").attr("stroke-width", 1.3).attr("marker-end", "url(#arrowHead)");
boundLabel(pA.g, 97, 192, "100", "start");

// (b)
const oB = {left:757, right:1337, top:52, bottom:380, xDomain:[0,1], yDomain:[0,30],
  xTicks:xTicks, yTicks:waitTicksAB, xs:rate99, bound:boundA, boundStart:0};
const pB = waitPanel(oB, {min:bMin, max:bMax, bands:[bP1,bP2,bP3,bP4,bP5,bP6,bP7,bP8,bP9,bP10]});
bandLegend(pB.g, [778, 9, 1315, 48], [803, 883.5, 980, 1072.5, 1159, 1245], [19.5, 38.5]);
axisTitles(pB.g, oB, "Wait time 2 (ms)", 20.5, "(b)", 425, 449, 718);
pB.g.append("line").attr("x1", 794).attr("y1", 180).attr("x2", pB.sc.x(0) + 1).attr("y2", pB.sc.y(boundA) + 1)
  .attr("stroke", "#000").attr("stroke-width", 1.3).attr("marker-end", "url(#arrowHead)");
boundLabel(pB.g, 795, 192, "100", "start");

// (c)
const oC = {left:67, right:640, top:508, bottom:831, xDomain:[0,1], yDomain:[0,100],
  xTicks:xTicks, yTicks:waitTicksC, xs:rate100, bound:boundC, boundStart:boundCStart};
const pC = waitPanel(oC, {min:cMin, max:cMax, bands:[cP1,cP2,cP3,cP4,cP5,cP6,cP7,cP8,cP9,cP10]});
bandLegend(pC.g, [89, 467, 616, 506], [114.5, 194.5, 282, 369, 456, 545], [477, 496]);
axisTitles(pC.g, oC, "Wait time 2 (ms)", 20.5, "(c)", 875, 898, 20);
pC.g.append("line").attr("x1", 605).attr("y1", 581).attr("x2", pC.sc.x(1) - 1).attr("y2", pC.sc.y(boundC) + 1)
  .attr("stroke", "#000").attr("stroke-width", 1.3).attr("marker-end", "url(#arrowHead)");
boundLabel(pC.g, 602, 597, "400", "end");

// ---------- panel (d) ----------
const oD = {left:767, right:1337, top:497, bottom:826, xDomain:[0,1], yDomain:[0,1],
  xTicks:xTicks, yTicks:cueTicks};
const gD = svg.append("g");
const scD = makeAxes(gD, oD);
drawSeries(gD, scD, rate99, cueT, {color:redT, marker:"circle", width:1.5}, {size:3.2, mw:1.3});
drawSeries(gD, scD, rate99, cueTS, {color:blueTS, marker:"circle", width:1.5}, {size:3.2, mw:1.3});
drawFrame(gD, oD);
axisTitles(gD, oD, "CUE", 20, "(d)", 873, 897, 718);

// legend (d)
gD.append("rect").attr("x", 772).attr("y", 503).attr("width", 190).attr("height", 47)
  .attr("fill", "#fff").attr("stroke", "#333").attr("stroke-width", 1.1);
[["CSMA/AP-T", redT, 515], ["CSMA/AP-TS", blueTS, 539]].forEach(([lab, col, yc]) => {
  legendSymbol(gD, 779, yc, 33, {color:col, marker:"circle", width:1.3}, {size:2.6, mw:1.2});
  sansText(gD, 820, yc, lab, 19).attr("dy", "0.36em");
});

// inset zoom on the saturated region
const oI = {left:1024, right:1310, top:600, bottom:763, xDomain:[0.465,1.0011], yDomain:[0.984,1.008],
  xTicks:insetXTicks, yTicks:insetYTicks, yLabelled:insetYLabelled, tickLen:5};
const gI = svg.append("g");
defs.append("clipPath").attr("id", "insetClip").append("rect")
  .attr("x", oI.left).attr("y", oI.top).attr("width", oI.right - oI.left).attr("height", oI.bottom - oI.top);
const scI = makeAxes(gI, oI);
drawSeries(gI, scI, rate99, cueT, {color:redT, marker:"circle", width:1.5}, {size:1.4, mw:1, clip:"insetClip"});
drawSeries(gI, scI, rate99, cueTS, {color:blueTS, marker:"circle", width:1.5}, {size:1.4, mw:1, clip:"insetClip"});
drawFrame(gI, oI);
sansText(gI, 1167, 807, "Traffic rate", 19).attr("text-anchor", "middle");
gI.append("text").attr("transform", `translate(959,${(oI.top + oI.bottom) / 2}) rotate(-90)`)
  .attr("text-anchor", "middle").attr("dy", "0.35em")
  .attr("font-size", 19).style("font-family", SANS).text("CUE");
</script>
</body>
</html>
